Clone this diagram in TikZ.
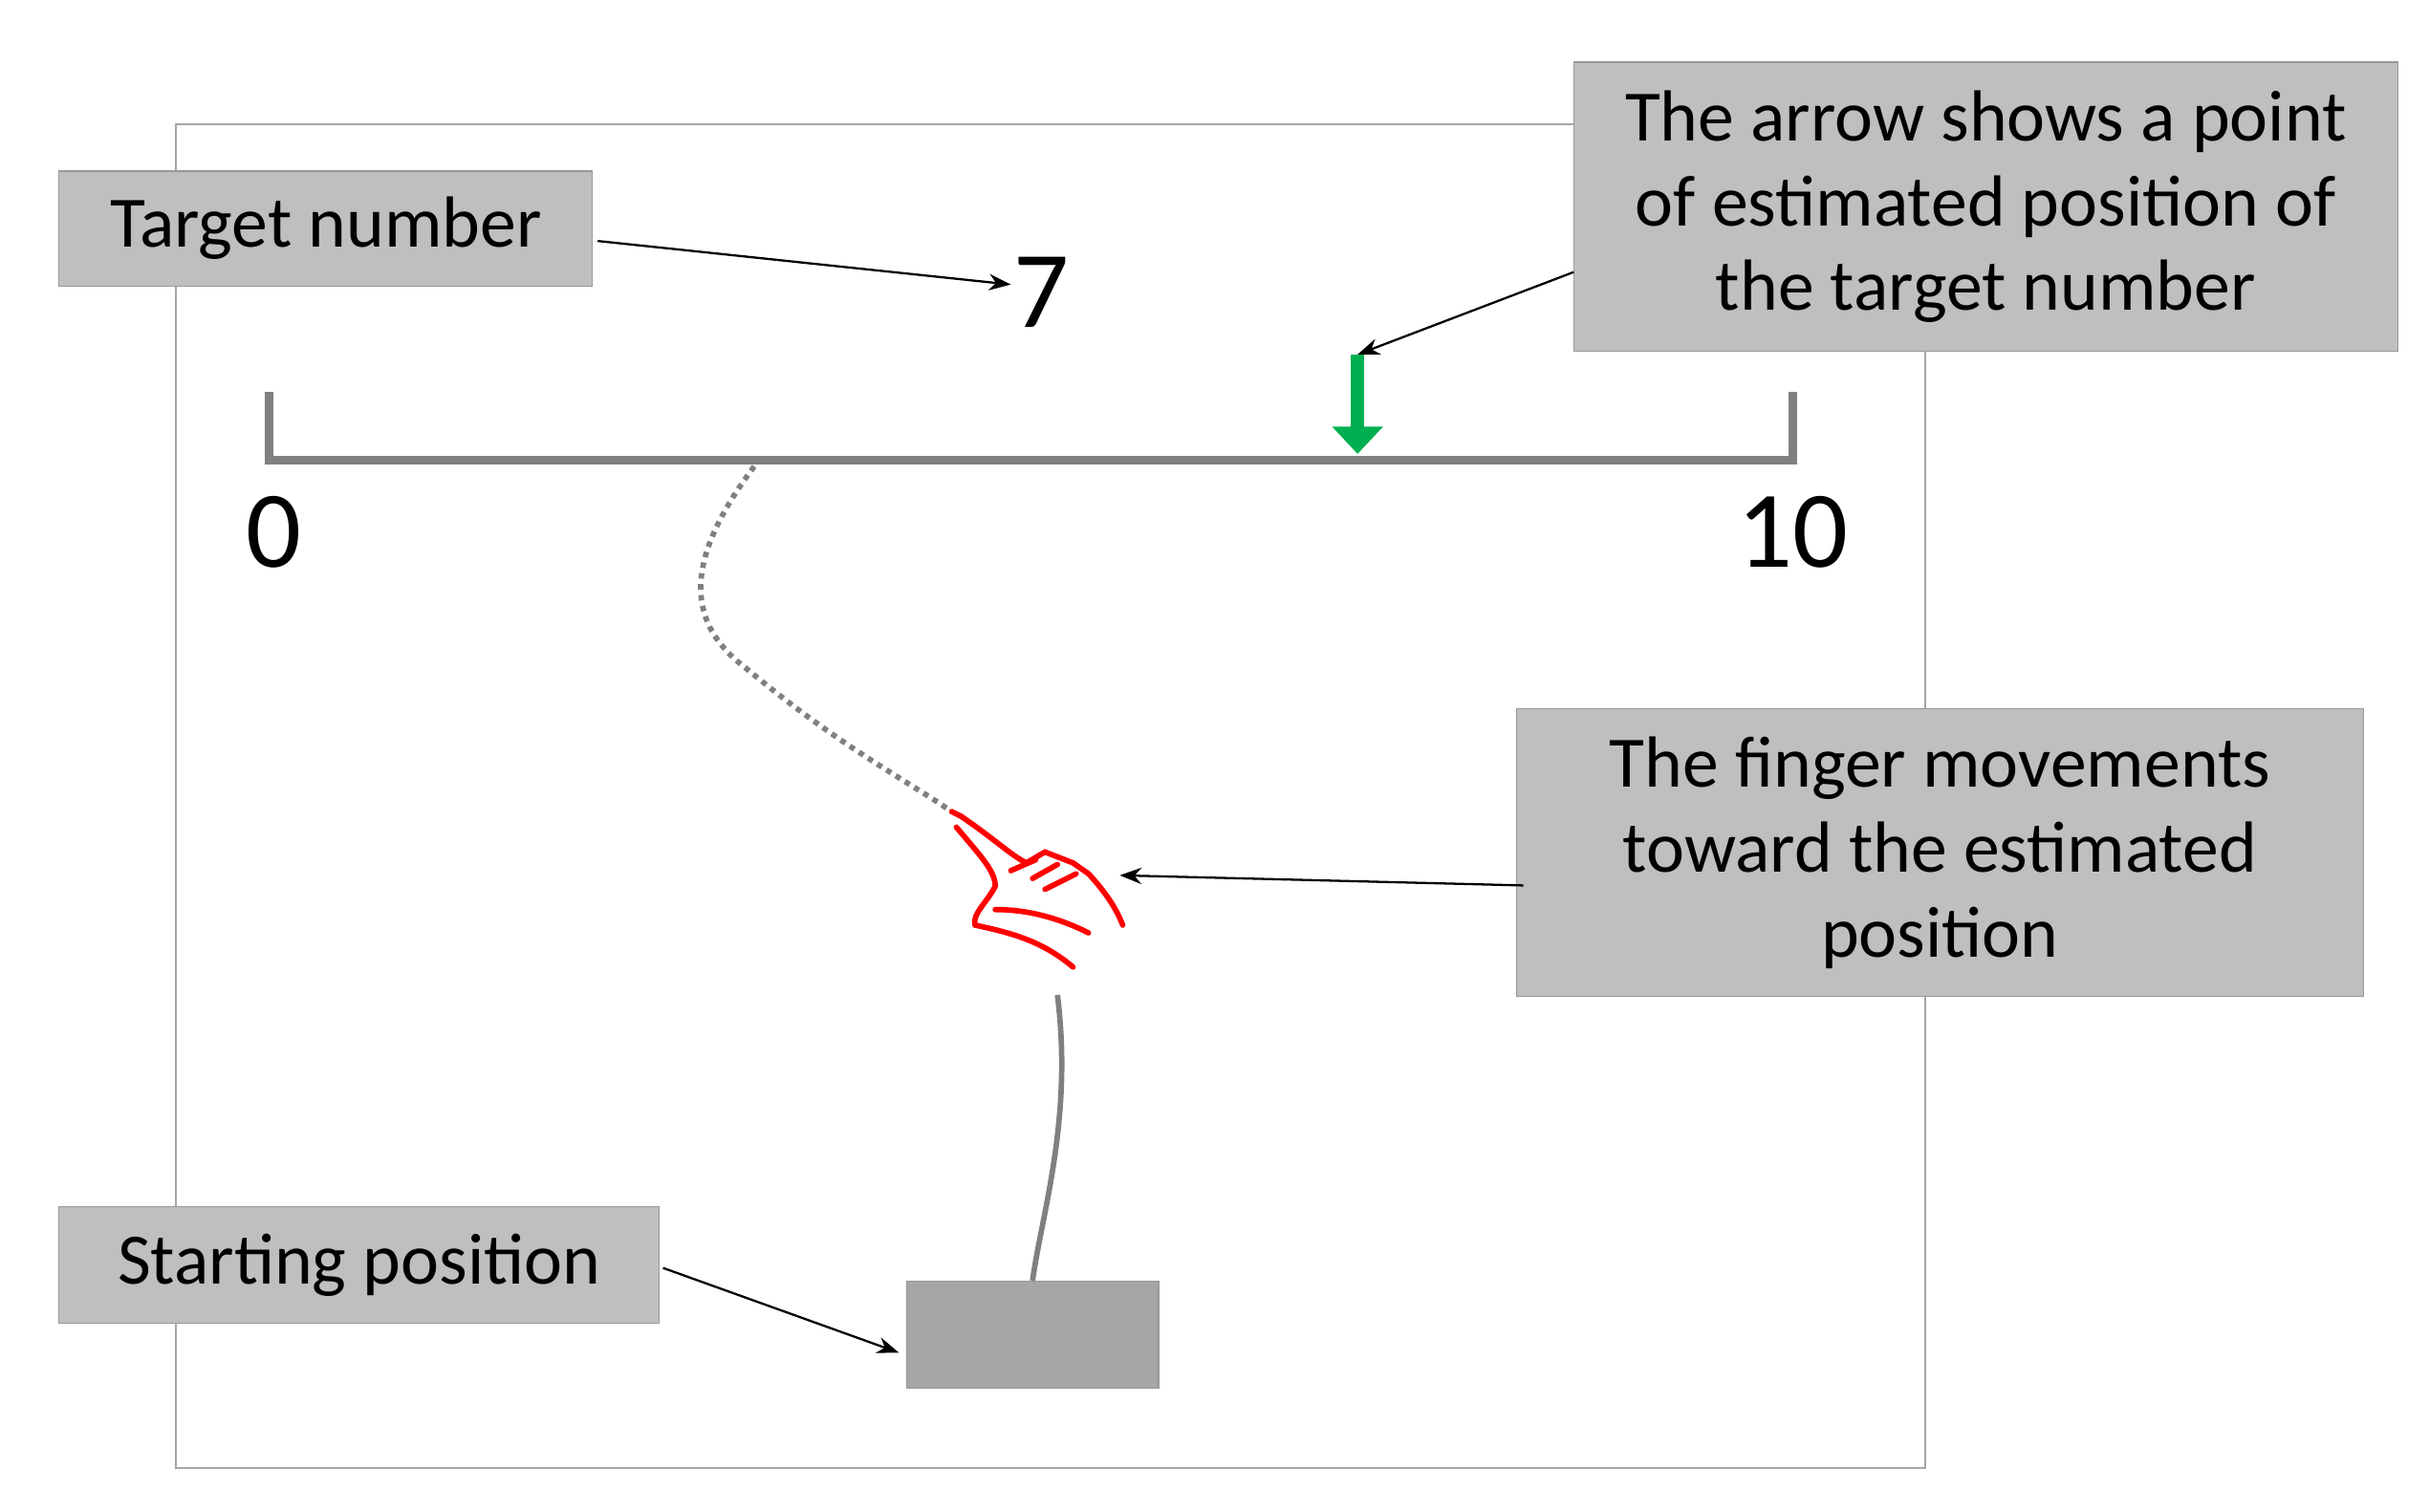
\documentclass[tikz,border=0pt]{standalone}
\usepackage{fontspec}
\setmainfont{Carlito}
\usetikzlibrary{arrows.meta}
\definecolor{grn}{HTML}{00B050}
\begin{document}
\begin{tikzpicture}[x=0.02cm,y=-0.02cm,
 lbl/.style={draw=gray!80,fill=black!25,font=\fontsize{26.5}{31}\selectfont,align=center,inner sep=0pt},
 ptr/.style={-{Stealth[length=8pt,width=6pt]},thick},
 num/.style={font=\fontsize{40}{40}\selectfont}]
\useasboundingbox (0,0) rectangle (1562,972);
\draw[gray!70,thick] (113,80) rectangle (1238,944);
\node[lbl,minimum width=343*0.02cm,minimum height=74*0.02cm] (tn) at (209.5,147) {Target number};
\node[num] (seven) at (670,188) {7};
\draw[ptr] (tn.east) ++(3,8) coordinate (a1) -- (650,183);
\draw[gray,line width=3pt] (173,252) -- (173,296) -- (1153,296) -- (1153,252);
\node[num] (zero) at (176,342) {0};
\node[num] (ten) at (1153,342) {10};
\coordinate (gtop) at (873,228);
\coordinate (gbot) at (873,292);
\draw[grn,line width=5pt,-{Triangle[length=10pt,width=18pt]}] (gtop) -- (gbot);
\node[lbl,minimum width=530*0.02cm,minimum height=186*0.02cm] (ar) at (1277,133)
 {The arrow shows a point\\of estimated position of\\the target number};
\coordinate (ars) at (1012,175);
\draw[ptr] (ars) -- (gtop);
\draw[gray,line width=2pt,dotted] (485,300) .. controls (440,360) and (440,400) .. (480,430) .. controls (540,480) and (580,500) .. (612,522);
% hand
\begin{scope}[red,line width=2pt,line cap=round]
\draw (618,525) .. controls (640,540) and (650,550) .. (660,555);
\draw (615,532) .. controls (630,550) and (640,560) .. (640,570) .. controls (635,580) and (625,588) .. (627,595);
\draw (660,555) -- (672,548) -- (690,555) -- (700,562);
\draw (650,560) -- (666,553);
\draw (664,565) -- (680,556);
\draw (672,572) -- (692,562);
\draw (700,562) .. controls (712,575) and (718,585) .. (722,595);
\draw (627,595) .. controls (650,600) and (670,605) .. (690,622);
\draw (640,585) .. controls (660,585) and (680,590) .. (700,600);
\draw (612,522) -- (618,525);
\end{scope}
\coordinate (hand) at (720,563);
\node[lbl,minimum width=545*0.02cm,minimum height=185*0.02cm] (fm) at (1247.5,548.5)
 {The finger movements\\toward the estimated\\position};
\draw[ptr] (fm.west) ++(5,21) coordinate (a3) -- (hand);
\node[draw=gray!80,fill=black!35,minimum width=162*0.02cm,minimum height=69*0.02cm,inner sep=0pt] (sp) at (664,858.5) {};
\draw[gray,line width=2pt] (680,640) .. controls (690,720) and (670,780) .. (sp.north);
\node[lbl,minimum width=386*0.02cm,minimum height=75*0.02cm] (st) at (231,813.5) {Starting position};
\draw[ptr] (st.east) ++(2,2) coordinate (a4) -- (578,870);
\end{tikzpicture}
\end{document}
